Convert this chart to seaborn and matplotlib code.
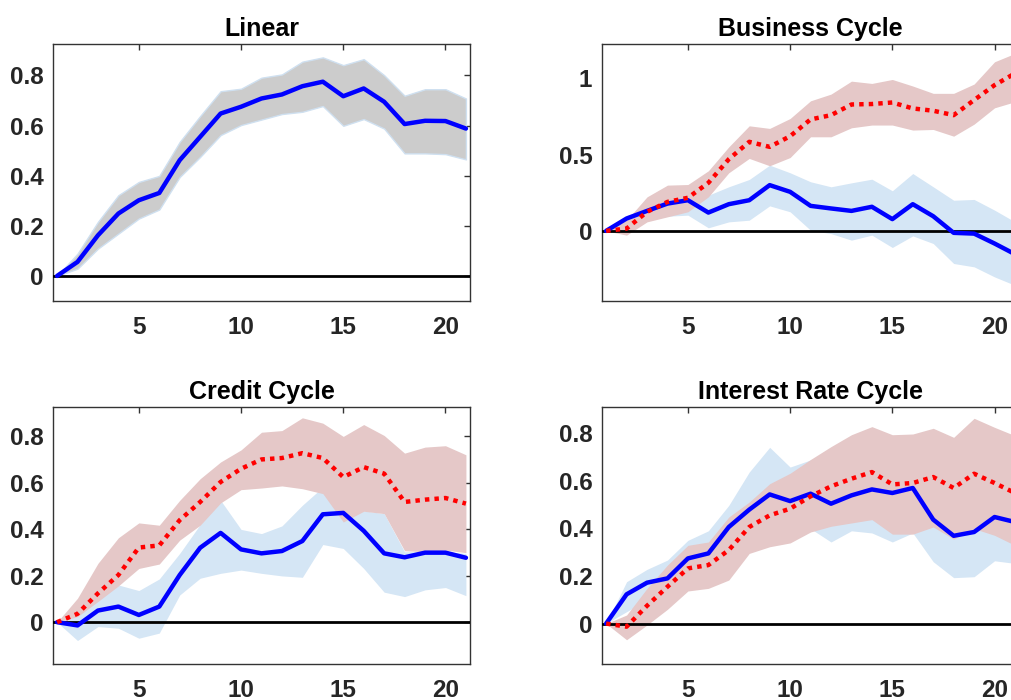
import numpy as np
import pandas as pd
import seaborn as sns
import matplotlib
matplotlib.use("Agg")
import matplotlib.pyplot as plt

############
# DATA     #
############

horizon = list(range(1, 22))

# Linear
lin_mid = [0, 0.056, 0.162, 0.249, 0.302, 0.331, 0.462, 0.555, 0.648, 0.675, 0.708,
           0.724, 0.757, 0.775, 0.717, 0.748, 0.695, 0.606, 0.619, 0.618, 0.588]
lin_hi = [0, 0.089, 0.216, 0.322, 0.375, 0.399, 0.535, 0.638, 0.737, 0.747, 0.791,
          0.804, 0.855, 0.872, 0.841, 0.865, 0.801, 0.719, 0.745, 0.745, 0.708]
lin_lo = [0, 0.029, 0.109, 0.169, 0.229, 0.265, 0.395, 0.475, 0.562, 0.602, 0.624,
          0.646, 0.655, 0.678, 0.599, 0.626, 0.588, 0.489, 0.489, 0.486, 0.465]

# Business cycle
bus_low = [0, 0.081, 0.131, 0.179, 0.201, 0.120, 0.175, 0.201, 0.300, 0.256, 0.164,
           0.147, 0.131, 0.158, 0.077, 0.175, 0.096, -0.013, -0.018, -0.083, -0.153]
bus_low_hi = [0, 0.10, 0.147, 0.19, 0.22, 0.234, 0.289, 0.337, 0.431, 0.381, 0.322,
              0.289, 0.315, 0.339, 0.263, 0.376, 0.289, 0.201, 0.206, 0.136, 0.059]
bus_low_lo = [0, 0.026, 0.07, 0.096, 0.103, 0.020, 0.059, 0.070, 0.164, 0.125, 0.004,
              -0.018, -0.061, -0.028, -0.109, -0.033, -0.083, -0.214, -0.236, -0.302, -0.357]
bus_high = [0, 0.015, 0.125, 0.19, 0.217, 0.315, 0.47, 0.584, 0.551, 0.621, 0.731,
            0.759, 0.829, 0.832, 0.842, 0.803, 0.788, 0.759, 0.858, 0.956, 1.033]
bus_high_hi = [0, 0.07, 0.223, 0.30, 0.304, 0.394, 0.551, 0.689, 0.672, 0.737, 0.853,
               0.897, 0.982, 0.967, 0.993, 0.95, 0.902, 0.902, 0.963, 1.109, 1.164]
bus_high_lo = [0, -0.028, 0.059, 0.092, 0.125, 0.223, 0.381, 0.475, 0.427, 0.481, 0.617,
               0.617, 0.676, 0.694, 0.694, 0.661, 0.665, 0.621, 0.70, 0.807, 0.847]

# Credit cycle
cre_low = [0, -0.014, 0.05, 0.067, 0.031, 0.067, 0.203, 0.32, 0.384, 0.313, 0.296,
           0.306, 0.349, 0.464, 0.47, 0.393, 0.296, 0.279, 0.299, 0.299, 0.277]
cre_low_hi = [0, 0.039, 0.11, 0.16, 0.136, 0.186, 0.296, 0.42, 0.524, 0.399, 0.381,
              0.414, 0.503, 0.581, 0.453, 0.479, 0.467, 0.303, 0.303, 0.303, 0.296]
cre_low_lo = [0, -0.079, -0.019, -0.026, -0.069, -0.047, 0.117, 0.189, 0.21, 0.224, 0.21,
              0.199, 0.193, 0.334, 0.317, 0.231, 0.129, 0.11, 0.139, 0.149, 0.114]
cre_high = [0, 0.036, 0.124, 0.203, 0.321, 0.33, 0.439, 0.517, 0.603, 0.66, 0.70,
            0.706, 0.727, 0.706, 0.624, 0.667, 0.639, 0.517, 0.527, 0.534, 0.51]
cre_high_hi = [0, 0.103, 0.253, 0.363, 0.427, 0.417, 0.524, 0.617, 0.689, 0.741, 0.817,
               0.824, 0.879, 0.856, 0.799, 0.85, 0.803, 0.727, 0.753, 0.759, 0.72]
cre_high_lo = [0, 0.024, 0.089, 0.156, 0.231, 0.25, 0.353, 0.417, 0.513, 0.57, 0.577,
               0.586, 0.574, 0.553, 0.431, 0.477, 0.467, 0.307, 0.303, 0.31, 0.299]

# Interest rate cycle
int_low = [0, 0.123, 0.172, 0.19, 0.274, 0.295, 0.406, 0.479, 0.543, 0.515, 0.546,
           0.504, 0.539, 0.564, 0.549, 0.57, 0.437, 0.369, 0.385, 0.448, 0.427]
int_low_hi = [0, 0.176, 0.228, 0.267, 0.35, 0.39, 0.497, 0.637, 0.741, 0.658, 0.688,
              0.66, 0.69, 0.70, 0.70, 0.72, 0.60, 0.55, 0.55, 0.58, 0.55]
int_low_lo = [0, 0.05, 0.099, 0.127, 0.2, 0.218, 0.316, 0.392, 0.416, 0.427, 0.399,
              0.343, 0.39, 0.381, 0.343, 0.381, 0.26, 0.193, 0.197, 0.264, 0.253]
int_high = [0, -0.013, 0.075, 0.155, 0.232, 0.246, 0.309, 0.406, 0.455, 0.483, 0.535,
            0.577, 0.609, 0.637, 0.585, 0.591, 0.616, 0.57, 0.63, 0.591, 0.549]
int_high_hi = [0, 0.036, 0.148, 0.246, 0.329, 0.343, 0.448, 0.511, 0.588, 0.632, 0.69,
               0.744, 0.794, 0.828, 0.794, 0.797, 0.821, 0.783, 0.863, 0.825, 0.79]
int_high_lo = [0, -0.068, -0.006, 0.06, 0.137, 0.148, 0.183, 0.295, 0.323, 0.339, 0.385,
               0.409, 0.423, 0.437, 0.376, 0.376, 0.406, 0.355, 0.399, 0.371, 0.329]

titles = ['Linear', 'Business Cycle', 'Credit Cycle', 'Interest Rate Cycle']

####################
# STYLE            #
####################

sns.set_style("white")
plt.rcParams['font.family'] = ['Liberation Sans', 'DejaVu Sans']
plt.rcParams['font.weight'] = 'bold'

BLUE_BAND = '#d5e6f5'
RED_BAND = '#e5c8c8'
GRAY_BAND = '#cccccc'
TEXT = '#262626'


def style_axis(ax, ylim, yticks, yticklabels, title):
    ax.set_xlim(0.8, 21.2)
    ax.set_ylim(*ylim)
    ax.set_xticks([5, 10, 15, 20])
    ax.set_yticks(yticks)
    ax.set_yticklabels(yticklabels)
    ax.tick_params(direction='in', length=4, width=1, color='#333333',
                   top=True, right=True, labelsize=17.5, labelcolor=TEXT)
    ax.tick_params(axis='x', pad=11)
    ax.tick_params(axis='y', pad=7)
    for lab in ax.get_xticklabels() + ax.get_yticklabels():
        lab.set_fontweight('bold')
    for sp in ax.spines.values():
        sp.set_color('#333333')
        sp.set_linewidth(1)
    ax.set_title(title, fontsize=18, fontweight='bold', color='black', pad=6)
    ax.set_xlabel('')
    ax.set_ylabel('')


def solid_line(ax, y):
    sns.lineplot(x=horizon, y=y, ax=ax, color='blue', linewidth=3.2, zorder=5)


def dotted_line(ax, y):
    line = sns.lineplot(x=horizon, y=y, ax=ax, color='red', linewidth=3.2, zorder=6)
    line.lines[-1].set_dashes((1, 1.15))
    line.lines[-1].set_dash_capstyle('butt')


def zero_line(ax):
    ax.axhline(0, color='black', linewidth=2, zorder=4)


####################
# PLOT             #
####################

fig = plt.figure(figsize=(10.11, 7.0), dpi=100)
W, H = 0.4125, 0.367
ax1 = fig.add_axes([0.0524, 0.570, W, H])
ax2 = fig.add_axes([0.5955, 0.570, W, H])
ax3 = fig.add_axes([0.0524, 0.0514, W, H])
ax4 = fig.add_axes([0.5955, 0.0514, W, H])

# Linear
ax1.fill_between(horizon, lin_lo, lin_hi, facecolor=GRAY_BAND, edgecolor='#cfe0f0',
                 linewidth=1, zorder=2)
zero_line(ax1)
solid_line(ax1, lin_mid)
style_axis(ax1, (-0.1, 0.925), [0, 0.2, 0.4, 0.6, 0.8],
           ['0', '0.2', '0.4', '0.6', '0.8'], titles[0])

# Business cycle
ax2.fill_between(horizon, bus_low_lo, bus_low_hi, color=BLUE_BAND, linewidth=0, zorder=2)
ax2.fill_between(horizon, bus_high_lo, bus_high_hi, color=RED_BAND, linewidth=0, zorder=3)
zero_line(ax2)
solid_line(ax2, bus_low)
dotted_line(ax2, bus_high)
style_axis(ax2, (-0.46, 1.225), [0, 0.5, 1], ['0', '0.5', '1'], titles[1])

# Credit cycle
ax3.fill_between(horizon, cre_low_lo, cre_low_hi, color=BLUE_BAND, linewidth=0, zorder=2)
ax3.fill_between(horizon, cre_high_lo, cre_high_hi, color=RED_BAND, linewidth=0, zorder=3)
zero_line(ax3)
solid_line(ax3, cre_low)
dotted_line(ax3, cre_high)
style_axis(ax3, (-0.18, 0.925), [0, 0.2, 0.4, 0.6, 0.8],
           ['0', '0.2', '0.4', '0.6', '0.8'], titles[2])

# Interest rate cycle
ax4.fill_between(horizon, int_low_lo, int_low_hi, color=BLUE_BAND, linewidth=0, zorder=2)
ax4.fill_between(horizon, int_high_lo, int_high_hi, color=RED_BAND, linewidth=0, zorder=3)
zero_line(ax4)
solid_line(ax4, int_low)
dotted_line(ax4, int_high)
style_axis(ax4, (-0.17, 0.91), [0, 0.2, 0.4, 0.6, 0.8],
           ['0', '0.2', '0.4', '0.6', '0.8'], titles[3])

plt.savefig('out.png', dpi=100)
